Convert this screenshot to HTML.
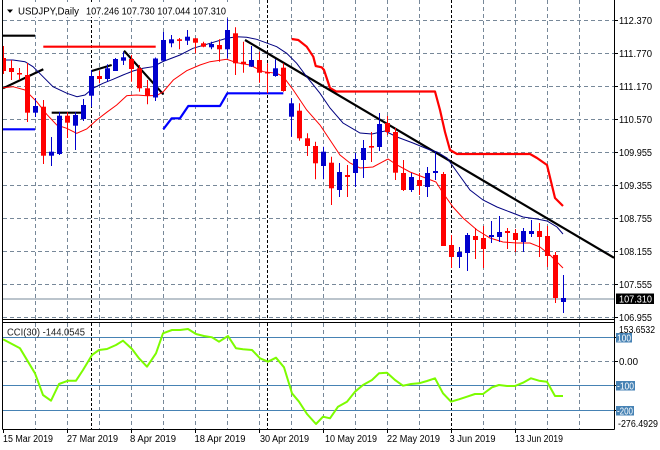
<!DOCTYPE html>
<html><head><meta charset="utf-8"><style>
html,body{margin:0;padding:0;background:#fff;}
svg{display:block;font-family:"Liberation Sans",Arial,sans-serif;}
</style></head><body>
<svg width="660" height="450" viewBox="0 0 660 450" xmlns="http://www.w3.org/2000/svg">
<defs>
<clipPath id="cm"><rect x="3" y="0" width="611" height="319"/></clipPath>
<clipPath id="cc"><rect x="3" y="323" width="611" height="106"/></clipPath>
</defs>
<rect width="660" height="450" fill="#fff"/>

<!-- main grid -->
<g stroke="#778899" stroke-width="1" stroke-dasharray="4,3" fill="none">
<path d="M3,20.5H614M3,53.5H614M3,86.5H614M3,119.5H614M3,152.5H614M3,185.5H614M3,218.5H614M3,251.5H614M3,284.5H614M3,317.5H614"/>
<path d="M35.5,0V319M67.5,0V319M99.5,0V319M131.5,0V319M163.5,0V319M195.5,0V319M227.5,0V319M259.5,0V319M291.5,0V319M323.5,0V319M355.5,0V319M387.5,0V319M419.5,0V319M483.5,0V319M515.5,0V319M547.5,0V319M579.5,0V319"/>
<path d="M3,361.5H614"/>
<path d="M35.5,323V429M67.5,323V429M99.5,323V429M131.5,323V429M163.5,323V429M195.5,323V429M227.5,323V429M259.5,323V429M291.5,323V429M323.5,323V429M355.5,323V429M387.5,323V429M419.5,323V429M483.5,323V429M515.5,323V429M547.5,323V429M579.5,323V429"/>
</g>
<g stroke="#000" stroke-width="1" stroke-dasharray="3,2" fill="none">
<path d="M91.5,0V319M267.5,0V319M451.5,0V319M91.5,323V429M267.5,323V429M451.5,323V429"/>
</g>

<!-- current price line -->
<path d="M3,299H614" stroke="#778899" stroke-width="1"/>

<g clip-path="url(#cm)">
<g fill="none" stroke-width="2.2" stroke-linejoin="round">
<polyline stroke="#0000FF" points="3,129.3 35,129.3"/>
<polyline stroke="#0000FF" points="163.3,129.3 171.7,118.3 180,118.3 188.3,106 220,106 227.3,93.3 283.3,93.3"/>
<polyline stroke="#FF0000" points="43.3,46.7 155.7,46.7"/>
<polyline stroke="#FF0000" points="291.7,39 298.3,40 306.7,46.7 313.3,56.7 315.7,66 321.7,67.3 324,70 330,88 336,91.5 435,91.5 440,110 445,132 450,150 457,154 530,154 537,158 547,165 555,198 563,206"/>
<g stroke="#000">
<polyline points="3,35.7 35,35.7"/>
<polyline points="3,88.3 43.3,69.3"/>
<polyline points="51.7,112.7 81.7,112.7"/>
<polyline points="91.7,71 111.7,65"/>
<polyline points="124,50.7 163.3,94.3"/>
<polyline points="245,40 614,257.8"/>
</g>
</g>
<polyline fill="none" stroke="#000080" stroke-width="1" points="3,60 13,60 25,61.7 33,66.7 43,76.7 53,86.7 67,93.3 77,96.7 85,95 93,88.3 103,83.3 113,79.3 123,75 133,71 143,68.3 153,66.7 163,61.5 180,55 193,48.3 210,43.3 226.7,38.3 236.7,36.7 246.7,37.3 256.7,39.3 276.7,46.7 286.7,53.3 296.7,63.3 306.7,76.7 320,93.3 330,108 343,123 360,133 372,134 385,131 397,137 413,143 430,150 437,152 447,158 457,172 470,190 483,200 497,207 510,212 523,217 537,219 547,221 557,227 563,234"/>
<polyline fill="none" stroke="#FF0000" stroke-width="1" points="3,87.7 13,86.7 25,90 36.7,101.7 46.7,114.3 56.7,125 66.7,128.3 76.7,133.3 86.7,129 96.7,120 106.7,112.3 116.7,105 126.7,95.7 136.7,95 146.7,95.7 156.7,95.5 163.3,91.7 173.3,80 186.7,70.7 200,65 210,61.7 226.7,59.3 236.7,62.7 250,65 263.3,71.7 276.7,73.3 283.3,76.7 293.3,90 306.7,110 320,125 330,140 340,155 350,163 360,168 373,167 388,159 397,165 410,172 423,177 436,182 443,193 453,207 463,218 477,230 490,238 503,242 517,243 530,243 540,247 550,255 563,268"/>
</g>

<!-- CCI -->
<g clip-path="url(#cc)">
<path d="M3,337.5H614M3,385.5H614M3,410.5H614" stroke="#4682B4" stroke-width="1"/>
<polyline fill="none" stroke="#7CFC00" stroke-width="2" stroke-linejoin="round" points="3,339.3 20,348.3 35,373.3 43,395 51,400.7 59,384 68,380.7 76,380.7 83,370 92,355 99,350 107,349 116,345 123,340.7 132,349 139,358.3 147,366.7 156,353.3 163,333.3 172,330 180,330 188,329 196,334 204,336 212,337.3 219,341.7 228,336 236,348.3 243,349.3 252,350 260,358.3 268,361.7 276,357.7 284,367.3 292,393.3 299,401.7 307,414 316,424 323,416.7 330,418.3 338,406.7 347,401.7 355,391.7 363,385 372,380 379,373.3 387,372.7 395,380 403,385.7 411,384 419,383.3 427,381 435,378.3 443,393.3 451,401.7 459,399.3 467,396.7 475,394 483,394 492,387.3 499,385 507,386 515,386 523,382.7 531,378.3 539,380.7 547,381.7 555,396 563,396"/>
</g>

<!-- frames -->
<g stroke="#000" stroke-width="1" fill="none">
<path d="M2.5,0V429.5"/>
<path d="M614.5,0V429.5"/>
<path d="M2.5,319.5H614.5M2.5,322.5H614.5M2.5,429.5H614.5"/>
<path d="M614,20.5h4M614,53.5h4M614,86.5h4M614,119.5h4M614,152.5h4M614,185.5h4M614,218.5h4M614,251.5h4M614,284.5h4M614,317.5h4"/>
<path d="M614,337.5h3M614,361.5h4M614,385.5h3M614,410.5h3"/>
<path d="M3.5,429v4M67.5,429v4M131.5,429v4M195.5,429v4M259.5,429v4M323.5,429v4M387.5,429v4M451.5,429v4M515.5,429v4"/>
</g>

<!-- title -->
<rect x="4" y="2" width="224" height="15" fill="#fff"/>
<polygon points="7,9.5 13,9.5 10,13" fill="#000"/>
<g font-size="10" fill="#000">
<text x="18" y="14.5" textLength="61" lengthAdjust="spacingAndGlyphs">USDJPY,Daily</text>
<text x="86" y="14.5" textLength="140" lengthAdjust="spacingAndGlyphs">107.246 107.730 107.044 107.310</text>
<text x="7" y="335.5" textLength="78" lengthAdjust="spacingAndGlyphs" fill="#222">CCI(30) -144.0545</text>
</g>

<!-- price labels -->
<g font-size="10" fill="#000">
<text x="619" y="24" textLength="33" lengthAdjust="spacingAndGlyphs">112.370</text>
<text x="619" y="57" textLength="33" lengthAdjust="spacingAndGlyphs">111.770</text>
<text x="619" y="90" textLength="33" lengthAdjust="spacingAndGlyphs">111.170</text>
<text x="619" y="123" textLength="33" lengthAdjust="spacingAndGlyphs">110.570</text>
<text x="619" y="156" textLength="33" lengthAdjust="spacingAndGlyphs">109.955</text>
<text x="619" y="189" textLength="33" lengthAdjust="spacingAndGlyphs">109.355</text>
<text x="619" y="222" textLength="33" lengthAdjust="spacingAndGlyphs">108.755</text>
<text x="619" y="255" textLength="33" lengthAdjust="spacingAndGlyphs">108.155</text>
<text x="619" y="288" textLength="33" lengthAdjust="spacingAndGlyphs">107.555</text>
<text x="619" y="321" textLength="33" lengthAdjust="spacingAndGlyphs">106.955</text>
</g>
<rect x="616" y="293.5" width="38" height="10.5" fill="#000"/>
<text x="619" y="302.5" font-size="10" fill="#fff" textLength="33" lengthAdjust="spacingAndGlyphs">107.310</text>

<!-- CCI labels -->
<rect x="616" y="333" width="16" height="9.5" fill="#4682B4"/>
<rect x="616" y="381" width="19" height="9.5" fill="#4682B4"/>
<rect x="616" y="406" width="18" height="9.5" fill="#4682B4"/>
<g font-size="10">
<text x="619" y="333" fill="#000" textLength="36" lengthAdjust="spacingAndGlyphs">153.6532</text>
<text x="617" y="341.5" fill="#fff" textLength="14" lengthAdjust="spacingAndGlyphs">100</text>
<text x="619" y="365" fill="#000" textLength="19" lengthAdjust="spacingAndGlyphs">0.00</text>
<text x="617" y="389.5" fill="#fff" textLength="17" lengthAdjust="spacingAndGlyphs">-100</text>
<text x="617" y="414.5" fill="#fff" textLength="16" lengthAdjust="spacingAndGlyphs">-200</text>
<text x="618" y="427" fill="#000" textLength="40" lengthAdjust="spacingAndGlyphs">-276.4929</text>
</g>

<!-- date labels -->
<g font-size="10" fill="#000">
<text x="3" y="442" textLength="50" lengthAdjust="spacingAndGlyphs">15 Mar 2019</text>
<text x="67" y="442" textLength="51" lengthAdjust="spacingAndGlyphs">27 Mar 2019</text>
<text x="130" y="442" textLength="46" lengthAdjust="spacingAndGlyphs">8 Apr 2019</text>
<text x="194.5" y="442" textLength="51" lengthAdjust="spacingAndGlyphs">18 Apr 2019</text>
<text x="260" y="442" textLength="49" lengthAdjust="spacingAndGlyphs">30 Apr 2019</text>
<text x="325" y="442" textLength="52" lengthAdjust="spacingAndGlyphs">10 May 2019</text>
<text x="387" y="442" textLength="53" lengthAdjust="spacingAndGlyphs">22 May 2019</text>
<text x="449.5" y="442" textLength="46" lengthAdjust="spacingAndGlyphs">3 Jun 2019</text>
<text x="515" y="442" textLength="48" lengthAdjust="spacingAndGlyphs">13 Jun 2019</text>
</g>

<!-- candles -->
<g clip-path="url(#cm)">
<g stroke-width="1">
<path stroke="#f00" d="M3.5,46V74"/><rect x="1" y="58" width="5" height="13" fill="#f00"/>
<path stroke="#f00" d="M11.5,60V80"/><rect x="9" y="68" width="5" height="4" fill="#f00"/>
<path stroke="#f00" d="M19.5,68V80"/><rect x="17" y="73" width="5" height="1.5" fill="#f00"/>
<path stroke="#f00" d="M27.5,63V122"/><rect x="25" y="75" width="5" height="37.7" fill="#f00"/>
<path stroke="#0000CD" d="M35.5,98V117"/><rect x="33" y="106" width="5" height="6.7" fill="#0000CD"/>
<path stroke="#f00" d="M43.5,100V164"/><rect x="41" y="106.7" width="5" height="49" fill="#f00"/>
<path stroke="#0000CD" d="M51.5,137V166"/><rect x="49" y="151.7" width="5" height="4" fill="#0000CD"/>
<path stroke="#0000CD" d="M59.5,112V155"/><rect x="57" y="115.7" width="5" height="38.3" fill="#0000CD"/>
<path stroke="#f00" d="M67.5,112V138"/><rect x="65" y="115.7" width="5" height="7" fill="#f00"/>
<path stroke="#0000CD" d="M75.5,112V150"/><rect x="73" y="115" width="5" height="10.7" fill="#0000CD"/>
<path stroke="#0000CD" d="M83.5,99V121"/><rect x="81" y="105" width="5" height="14" fill="#0000CD"/>
<path stroke="#0000CD" d="M91.5,70V107"/><rect x="89" y="76" width="5" height="19.7" fill="#0000CD"/>
<path stroke="#f00" d="M99.5,70.7V83.3"/><rect x="97" y="76" width="5" height="3" fill="#f00"/>
<path stroke="#0000CD" d="M107.5,64.3V81.7"/><rect x="105" y="68.3" width="5" height="10.7" fill="#0000CD"/>
<path stroke="#0000CD" d="M115.5,58V71"/><rect x="113" y="59" width="5" height="12" fill="#0000CD"/>
<path stroke="#0000CD" d="M123.5,51.7V65"/><rect x="121" y="57.3" width="5" height="3.4" fill="#0000CD"/>
<path stroke="#f00" d="M131.5,55V81.7"/><rect x="129" y="59" width="5" height="10" fill="#f00"/>
<path stroke="#f00" d="M139.5,65V91.7"/><rect x="137" y="68.3" width="5" height="20" fill="#f00"/>
<path stroke="#f00" d="M147.5,80V104.3"/><rect x="145" y="88.3" width="5" height="7.4" fill="#f00"/>
<path stroke="#0000CD" d="M155.5,57.5V101"/><rect x="153" y="58.5" width="5" height="39" fill="#0000CD"/>
<path stroke="#0000CD" d="M163.5,32V61"/><rect x="161" y="40" width="5" height="20.7" fill="#0000CD"/>
<path stroke="#0000CD" d="M171.5,35V47.3"/><rect x="169" y="39.3" width="5" height="4" fill="#0000CD"/>
<path stroke="#f00" d="M179.5,38V49.3"/><rect x="177" y="39.3" width="5" height="1.6" fill="#f00"/>
<path stroke="#0000CD" d="M187.5,30V45"/><rect x="185" y="36.7" width="5" height="4" fill="#0000CD"/>
<path stroke="#f00" d="M195.5,38V53.3"/><rect x="193" y="38.3" width="5" height="4.4" fill="#f00"/>
<path stroke="#f00" d="M203.5,41.7V47.3"/><rect x="201" y="43.3" width="5" height="3.4" fill="#f00"/>
<path stroke="#0000CD" d="M211.5,41.7V49.3"/><rect x="209" y="44" width="5" height="3.3" fill="#0000CD"/>
<path stroke="#f00" d="M219.5,39.3V61.7"/><rect x="217" y="45" width="5" height="4.3" fill="#f00"/>
<path stroke="#0000CD" d="M227.5,18.3V58.3"/><rect x="225" y="30" width="5" height="19.3" fill="#0000CD"/>
<path stroke="#f00" d="M235.5,27.3V75"/><rect x="233" y="33.3" width="5" height="30" fill="#f00"/>
<path stroke="#f00" d="M243.5,41.7V72.7"/><rect x="241" y="61.7" width="5" height="2.6" fill="#f00"/>
<path stroke="#0000CD" d="M251.5,46V67"/><rect x="249" y="60" width="5" height="6.7" fill="#0000CD"/>
<path stroke="#f00" d="M259.5,51.7V82.7"/><rect x="257" y="60" width="5" height="12.7" fill="#f00"/>
<path stroke="#f00" d="M267.5,63.3V93.3"/><rect x="265" y="72" width="5" height="1.5" fill="#f00"/>
<path stroke="#0000CD" d="M275.5,59.3V76.7"/><rect x="273" y="68.3" width="5" height="7.7" fill="#0000CD"/>
<path stroke="#f00" d="M283.5,63.3V91.7"/><rect x="281" y="67.7" width="5" height="23.3" fill="#f00"/>
<path stroke="#0000CD" d="M291.5,98.3V136.7"/><rect x="289" y="103.3" width="5" height="13.4" fill="#0000CD"/>
<path stroke="#f00" d="M299.5,103.3V140.7"/><rect x="297" y="110.7" width="5" height="27.6" fill="#f00"/>
<path stroke="#f00" d="M307.5,133.3V156"/><rect x="305" y="138.3" width="5" height="7.7" fill="#f00"/>
<path stroke="#f00" d="M315.5,141.7V179.3"/><rect x="313" y="146" width="5" height="17.3" fill="#f00"/>
<path stroke="#0000CD" d="M323.5,146.7V179.3"/><rect x="321" y="151.7" width="5" height="14.3" fill="#0000CD"/>
<path stroke="#f00" d="M331.5,156.7V205"/><rect x="329" y="162.7" width="5" height="25.6" fill="#f00"/>
<path stroke="#0000CD" d="M339.5,163V197"/><rect x="337" y="172" width="5" height="18" fill="#0000CD"/>
<path stroke="#f00" d="M347.5,165V197"/><rect x="345" y="175" width="5" height="2" fill="#f00"/>
<path stroke="#0000CD" d="M355.5,153V187"/><rect x="353" y="159" width="5" height="14" fill="#0000CD"/>
<path stroke="#0000CD" d="M363.5,140V178"/><rect x="361" y="148" width="5" height="12" fill="#0000CD"/>
<path stroke="#f00" d="M371.5,132V162"/><rect x="369" y="146" width="5" height="1.6" fill="#f00"/>
<path stroke="#0000CD" d="M379.5,113V151"/><rect x="377" y="124" width="5" height="23" fill="#0000CD"/>
<path stroke="#f00" d="M387.5,116V135"/><rect x="385" y="123" width="5" height="9" fill="#f00"/>
<path stroke="#f00" d="M395.5,128V180"/><rect x="393" y="132" width="5" height="40.7" fill="#f00"/>
<path stroke="#f00" d="M403.5,160V191"/><rect x="401" y="173" width="5" height="17" fill="#f00"/>
<path stroke="#0000CD" d="M411.5,173V192"/><rect x="409" y="177" width="5" height="13" fill="#0000CD"/>
<path stroke="#f00" d="M419.5,173V195"/><rect x="417" y="180" width="5" height="6" fill="#f00"/>
<path stroke="#0000CD" d="M427.5,167V197"/><rect x="425" y="173" width="5" height="14" fill="#0000CD"/>
<path stroke="#0000CD" d="M435.5,152V180"/><rect x="433" y="171" width="5" height="2" fill="#0000CD"/>
<path stroke="#f00" d="M443.5,172V246"/><rect x="441" y="174" width="5" height="72" fill="#f00"/>
<path stroke="#f00" d="M451.5,235V268"/><rect x="449" y="245" width="5" height="12" fill="#f00"/>
<path stroke="#0000CD" d="M459.5,247V268"/><rect x="457" y="252" width="5" height="5" fill="#0000CD"/>
<path stroke="#0000CD" d="M467.5,233V271"/><rect x="465" y="235" width="5" height="18" fill="#0000CD"/>
<path stroke="#f00" d="M475.5,228V259"/><rect x="473" y="236" width="5" height="4" fill="#f00"/>
<path stroke="#f00" d="M483.5,226V268"/><rect x="481" y="238" width="5" height="11" fill="#f00"/>
<path stroke="#0000CD" d="M491.5,221V243"/><rect x="489" y="235" width="5" height="2" fill="#0000CD"/>
<path stroke="#0000CD" d="M499.5,216V242"/><rect x="497" y="232" width="5" height="5" fill="#0000CD"/>
<path stroke="#f00" d="M507.5,228V249"/><rect x="505" y="231" width="5" height="2" fill="#f00"/>
<path stroke="#f00" d="M515.5,229V252"/><rect x="513" y="233" width="5" height="7" fill="#f00"/>
<path stroke="#0000CD" d="M523.5,228V252"/><rect x="521" y="231" width="5" height="11" fill="#0000CD"/>
<path stroke="#0000CD" d="M531.5,220V237"/><rect x="529" y="231" width="5" height="3" fill="#0000CD"/>
<path stroke="#f00" d="M539.5,223V257"/><rect x="537" y="231" width="5" height="6" fill="#f00"/>
<path stroke="#f00" d="M547.5,226V267"/><rect x="545" y="236" width="5" height="20" fill="#f00"/>
<path stroke="#f00" d="M555.5,252V303"/><rect x="553" y="255" width="5" height="43" fill="#f00"/>
<path stroke="#0000CD" d="M563.5,275V313"/><rect x="561" y="298" width="5" height="4" fill="#0000CD"/>
</g>
</g>
</svg>
</body></html>
